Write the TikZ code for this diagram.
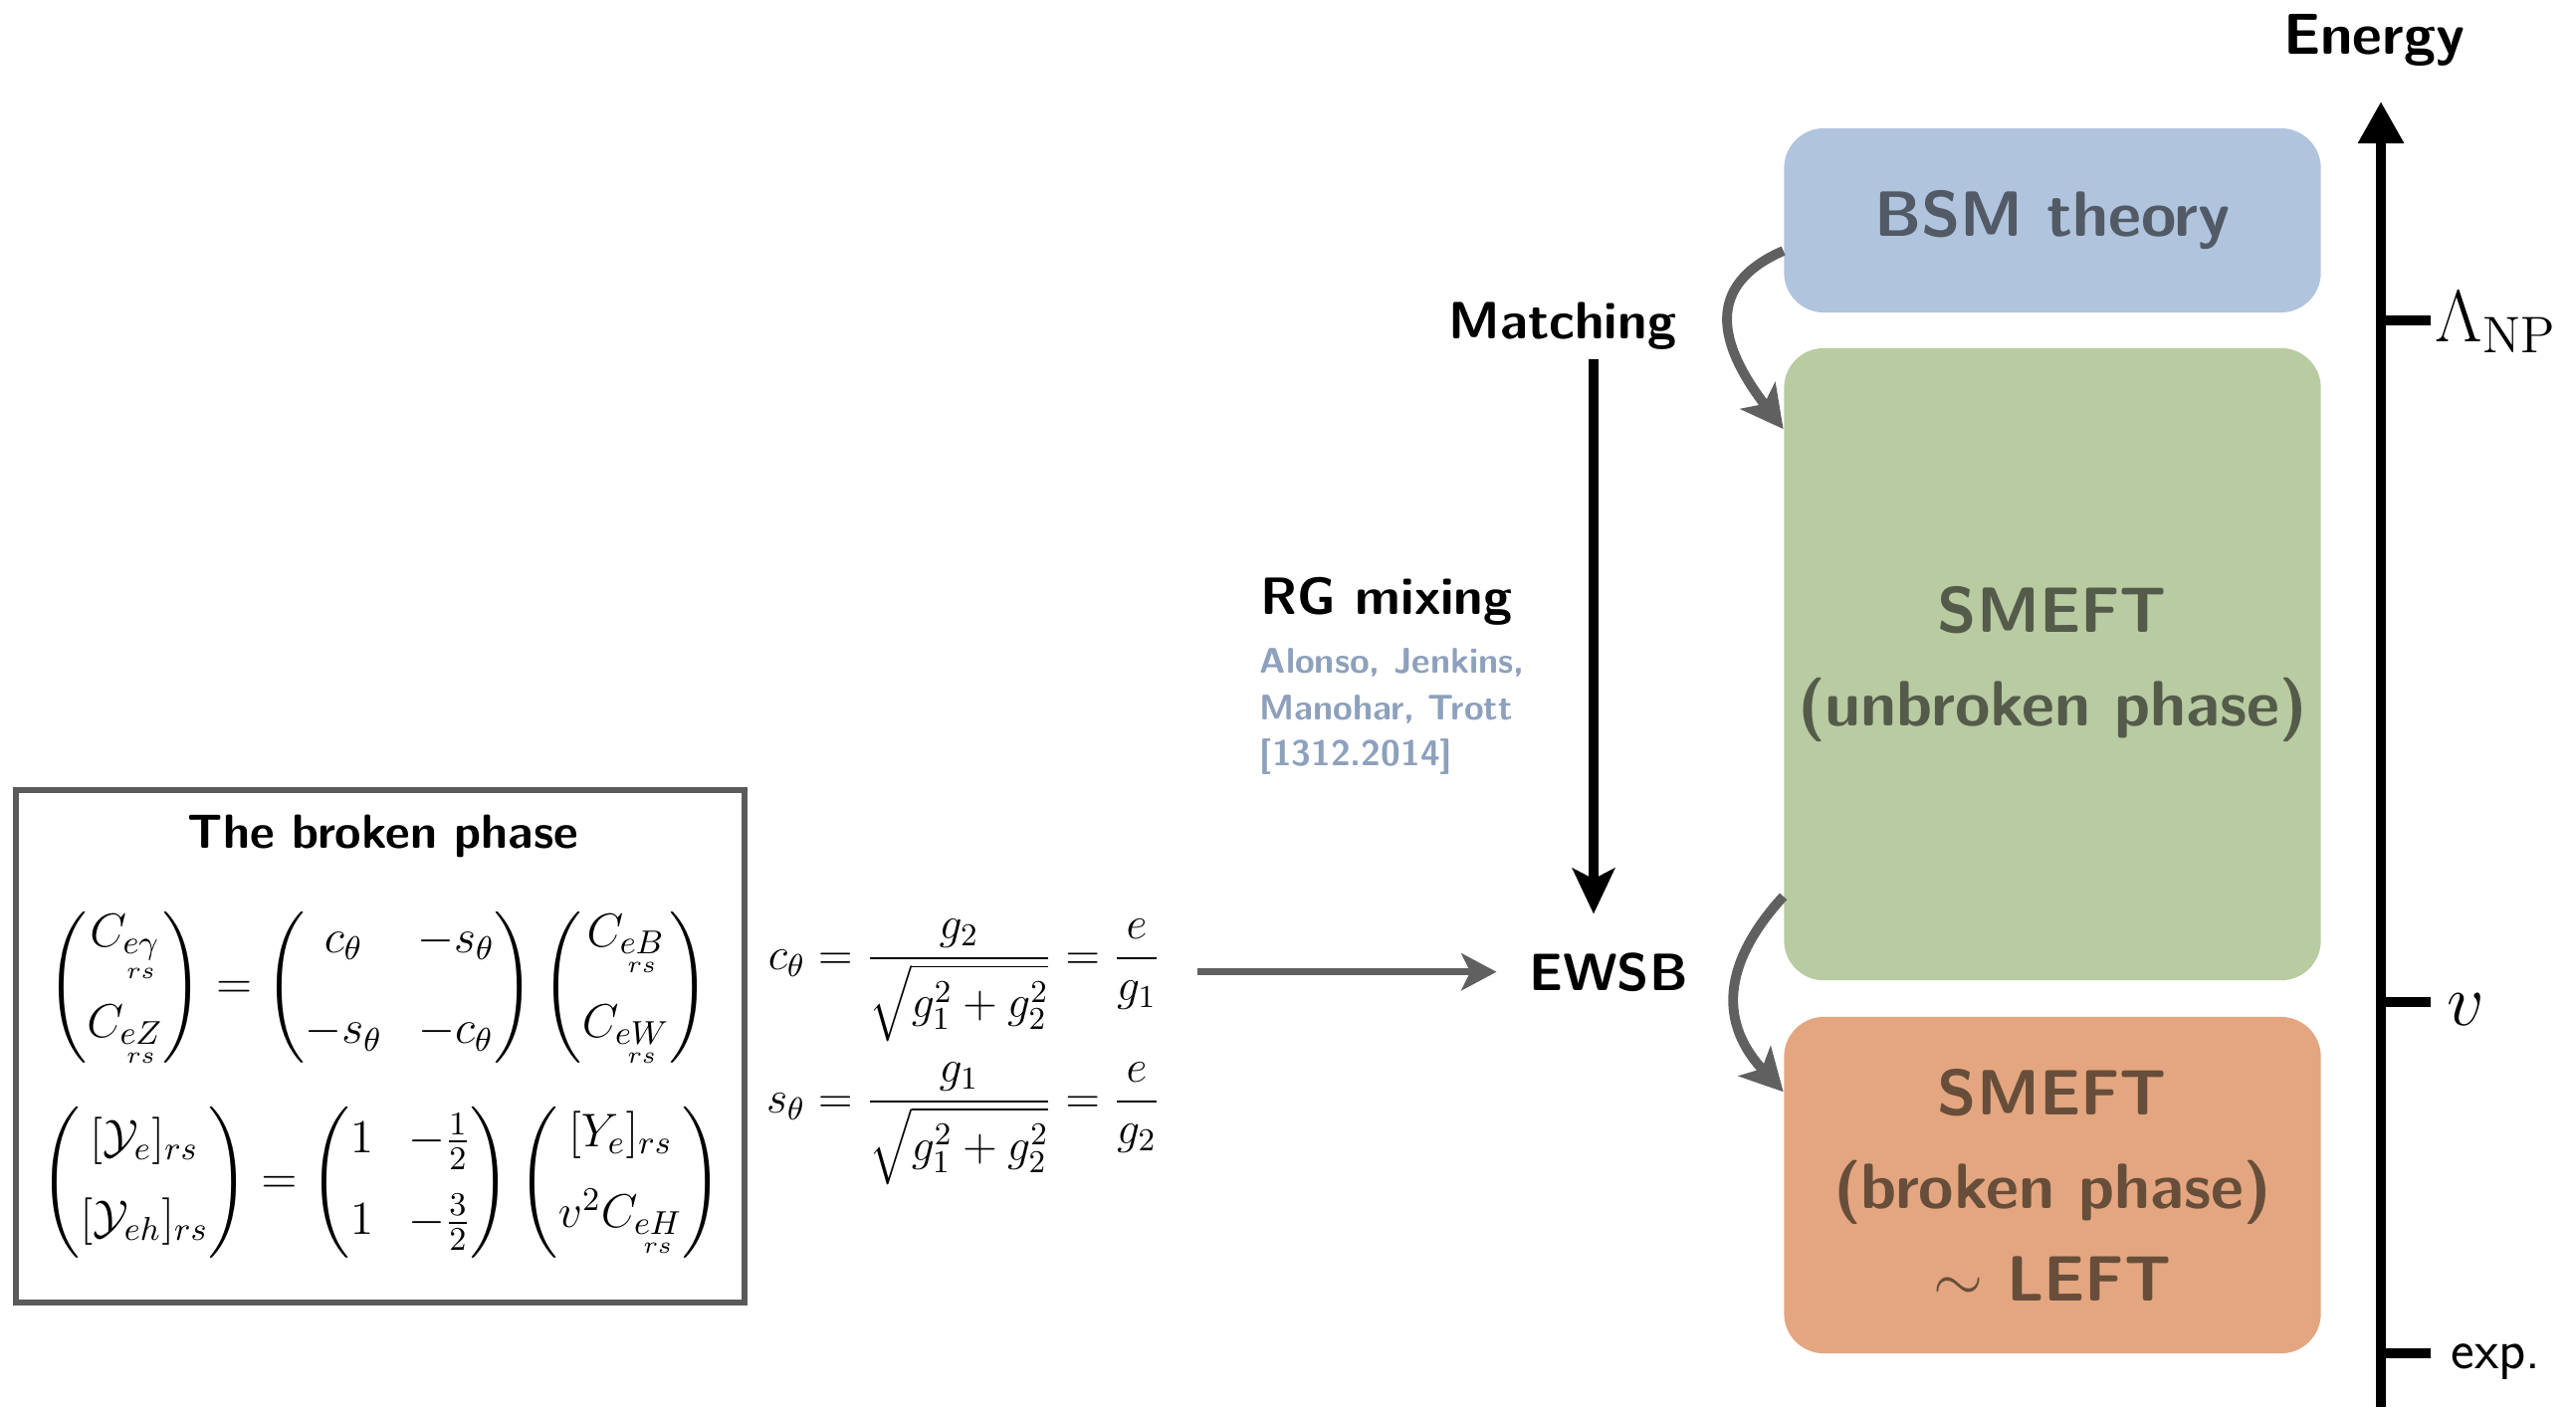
\documentclass[tikz,border=0pt]{standalone}
\usepackage{fix-cm}
\usepackage{amsmath}
\usetikzlibrary{arrows.meta}
\definecolor{bsmfill}{RGB}{176,196,222}
\definecolor{bsmtext}{RGB}{82,90,102}
\definecolor{unbfill}{RGB}{184,203,161}
\definecolor{unbtext}{RGB}{85,91,74}
\definecolor{brkfill}{RGB}{228,166,128}
\definecolor{brktext}{RGB}{103,78,58}
\definecolor{arrgray}{RGB}{96,96,96}
\definecolor{refblue}{RGB}{141,160,188}
\definecolor{framegray}{RGB}{90,90,90}
\begin{document}
\begin{tikzpicture}[x=0.01cm,y=-0.01cm,
  phasebox/.style={rounded corners=0.4cm, minimum width=5.39cm, align=center, inner sep=0pt,
    font=\sffamily\bfseries\fontsize{18.3}{26.5}\selectfont},
  lbl/.style={font=\sffamily\bfseries\fontsize{15}{18}\selectfont, inner sep=0pt},
  curvarrow/.style={draw=arrgray, line width=2.8pt, -{Stealth[length=12pt,width=12.5pt,inset=3pt]}},
  flatarrow/.style={draw=arrgray, line width=2pt, -{Stealth[length=10pt,width=10.5pt,inset=2.5pt]}},
  blackarrow/.style={draw=black, line width=2.8pt, -{Stealth[length=13pt,width=12pt,inset=3pt]}},
  axisarrow/.style={draw=black, line width=2.8pt, -{Triangle[length=12pt,width=12.5pt]}},
  tickline/.style={draw=black, line width=3pt},
  mathbig/.style={inner sep=0pt, font=\fontsize{21}{25}\selectfont},
  eqstyle/.style={inner sep=0pt, font=\fontsize{13}{16}\selectfont},
  mateq/.style={inner sep=0pt, font=\fontsize{13.5}{16}\selectfont}
]
\path[use as bounding box] (0,0) rectangle (2588,1414);

% phase boxes
\node[phasebox, fill=bsmfill, text=bsmtext, minimum height=1.85cm] (bsm) at (2062,221.5) {BSM theory};
\node[phasebox, fill=unbfill, text=unbtext, minimum height=6.35cm] (unb) at (2062,667.5) {SMEFT\\(unbroken phase)};
\node[phasebox, fill=brkfill, text=brktext, minimum height=3.38cm] (brk) at (2062,1191) {SMEFT\\(broken phase)\\$\sim$ LEFT};

% curved arrows
\draw[curvarrow] ([yshift=-0.305cm]bsm.west) .. controls +(-80,35) and +(-65,-85) .. ([yshift=-0.82cm]unb.north west);
\draw[curvarrow] ([yshift=0.85cm]unb.south west) .. controls +(-55,60) and +(-70,-75) .. ([yshift=-0.76cm]brk.north west);

% energy axis
\coordinate (axbot) at (2392,1414);
\coordinate (axtop) at (2392,102);
\draw[axisarrow] (axbot) -- (axtop);
\node[font=\sffamily\bfseries\fontsize{16.5}{20}\selectfont, inner sep=0pt, anchor=base] (energy) at (2385,54) {Energy};
\coordinate (tlam) at (2392,322);
\coordinate (tv) at (2392,1007);
\coordinate (texp) at (2392,1360);
\draw[tickline] (tlam) -- ++(50,0);
\draw[tickline] (tv) -- ++(50,0);
\draw[tickline] (texp) -- ++(50,0);
\node[mathbig, anchor=base west] (lam) at (2446,343) {$\Lambda_{\mathrm{NP}}$};
\node[mathbig, anchor=base west] (vlab) at (2458,1030) {$v$};
\node[inner sep=0pt, anchor=base west, font=\sffamily\fontsize{16}{19}\selectfont] (explab) at (2462,1375) {exp.};

% matching / RG
\node[lbl, anchor=base] (matching) at (1570,340) {Matching};
\node[lbl, anchor=base] (ewsb) at (1616,995) {EWSB};
\coordinate (marrow) at (1601,0);
\draw[blackarrow, shorten <=0.09cm, shorten >=0.38cm] (matching.south -| marrow) -- (ewsb.north -| marrow);
\node[lbl, anchor=base west] (rg) at (1266,617) {RG mixing};
\node[inner sep=0pt, anchor=north west, align=left, text=refblue,
  font=\sffamily\bfseries\fontsize{10.2}{13.2}\selectfont] (ref) at (1265,651)
  {Alonso, Jenkins,\\Manohar, Trott\\{[}1312.2014{]}};

% broken phase box
\node[draw=framegray, line width=1.7pt, minimum width=7.32cm, minimum height=5.15cm, inner sep=0pt] (bpbox) at (382,1051.5) {};
\node[inner sep=0pt, anchor=base, font=\sffamily\bfseries\fontsize{13.7}{17}\selectfont] (bptitle) at (385,852) {The broken phase};
\node[mateq] (eqa) at (380,992) {$\displaystyle
  \begin{pmatrix} C_{\underset{rs}{e\gamma}} \\[10pt] C_{\underset{rs}{eZ}} \end{pmatrix}
  = \begin{pmatrix} c_\theta & -s_\theta \\[10pt] -s_\theta & -c_\theta \end{pmatrix}
  \begin{pmatrix} C_{\underset{rs}{eB}} \\[10pt] C_{\underset{rs}{eW}} \end{pmatrix}$};
\node[mateq] (eqb) at (383,1188) {$\displaystyle
  \begin{pmatrix} [\mathcal{Y}_e]_{rs} \\[7pt] [\mathcal{Y}_{eh}]_{rs} \end{pmatrix}
  = \begin{pmatrix} 1 & -\frac{1}{2} \\[7pt] 1 & -\frac{3}{2} \end{pmatrix}
  \begin{pmatrix} [Y_e]_{rs} \\[7pt] v^2 C_{\underset{rs}{eH}} \end{pmatrix}$};

% weinberg angle
\node[eqstyle] (eqs) at (968,1057) {$\displaystyle
  \begin{aligned}
  c_\theta &= \frac{g_2}{\sqrt{g_1^2+g_2^2}} = \frac{e}{g_1}\\[2pt]
  s_\theta &= \frac{g_1}{\sqrt{g_1^2+g_2^2}} = \frac{e}{g_2}
  \end{aligned}$};
\draw[flatarrow, shorten <=0.36cm, shorten >=0.32cm] (eqs.east |- ewsb.west) -- (ewsb.west);
\end{tikzpicture}
\end{document}
